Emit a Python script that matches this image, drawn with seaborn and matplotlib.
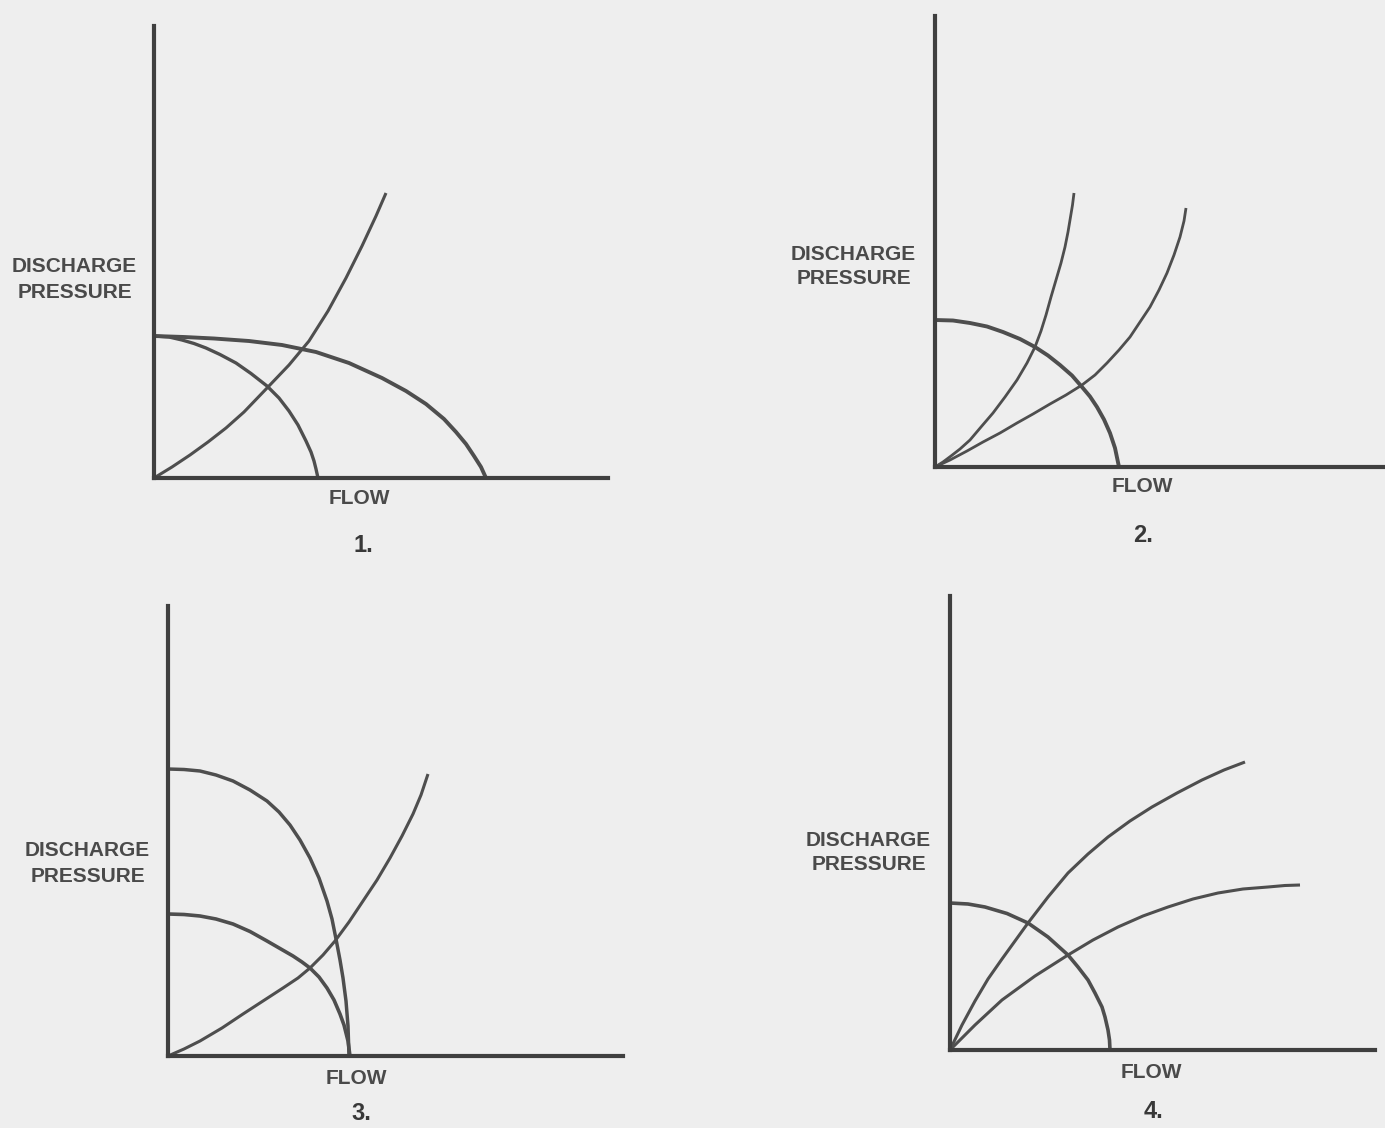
import matplotlib
matplotlib.use("Agg")
import matplotlib.pyplot as plt
import seaborn as sns

FIG_W, FIG_H = 1385, 1128

# values read off the scan, in drawing units measured from each panel origin
# panel 1: two pumps of different capacity, one system curve
p1_pump_small_flow = [0, 15, 28, 40, 52, 66, 82, 97, 113, 125, 135, 144, 152, 157, 160, 162, 164]
p1_pump_small_pres = [142, 141, 138, 134.5, 130, 123.5, 115, 104.5, 92, 80, 67, 53, 37, 26, 17, 9, 0]
p1_pump_large_flow = [0, 30, 60, 95, 128, 162, 195, 228, 252, 272, 290, 302, 312, 320, 327, 332]
p1_pump_large_pres = [142, 141, 139.5, 137, 133, 126, 115, 100, 87, 74, 59, 46, 34, 22, 11, 0]
p1_system_flow = [0, 18, 36, 54, 72, 90, 114, 135, 155, 174, 192, 208, 222, 232]
p1_system_pres = [0, 11, 23, 36, 50, 66, 91, 113, 137, 167, 200, 232, 262, 285]

# panel 2: one pump, two system curves
p2_pump_flow = [0, 18, 35, 52, 68, 85, 100, 113, 125, 137, 147, 155, 162, 169, 175, 180, 184]
p2_pump_pres = [147, 146.5, 144, 140.5, 135, 128, 120, 111.5, 102, 91.5, 80, 70.5, 60, 47.5, 34, 19, 0]
p2_system_steep_flow = [0, 8, 16, 25, 35, 46, 58, 70, 82, 92, 100, 106, 111, 116, 121, 126, 130, 133, 135.5, 137.5, 139]
p2_system_steep_pres = [0, 5, 11, 18, 27, 40, 54, 70, 87, 104, 120, 136, 152, 170, 187, 204, 220, 235, 250, 262, 274]
p2_system_flat_flow = [0, 15, 32, 48, 65, 82, 98, 115, 131, 147, 160, 172, 184, 195, 205, 215, 224, 232, 239, 245, 249, 251]
p2_system_flat_pres = [0, 7, 16, 25, 34, 44, 53, 63, 72, 82, 92, 104, 117, 130, 145, 160, 177, 194, 212, 230, 246, 259]

# panel 3: two pumps, same run-out flow, one system curve
p3_pump_high_flow = [0, 16, 32, 48, 65, 82, 99, 111, 122, 132, 142, 151, 159, 164, 168, 172, 175, 178, 180, 181]
p3_pump_high_pres = [287, 286.5, 285, 281, 275, 266, 255, 244, 231, 216, 198, 178, 155, 137, 117, 96, 78, 55, 30, 0]
p3_pump_low_flow = [0, 16, 32, 48, 65, 82, 99, 112, 125, 134, 142, 151, 159, 166, 172, 176, 180, 182]
p3_pump_low_pres = [142, 141.5, 140, 137, 132, 124.5, 115, 107.5, 100, 94, 88, 79, 68, 56, 42, 31, 15, 0]
p3_system_flow = [0, 16, 32, 54, 75, 95, 115, 130, 142, 155, 167, 181, 195, 209, 222, 234, 245, 253, 260]
p3_system_pres = [0, 7, 15, 28, 42, 55, 68, 78, 88, 101, 115, 134, 155, 176, 198, 220, 242, 261, 282]

# panel 4: one pump, two concave system curves
p4_pump_flow = [0, 18, 35, 57, 78, 98, 118, 128, 138, 145, 152, 155, 158, 159.5, 160]
p4_pump_pres = [147, 146, 143, 136.5, 127, 113, 95, 83, 70, 57, 43, 33, 20, 10, 0]
p4_system_high_flow = [0, 12, 25, 38, 52, 65, 78, 98, 118, 138, 158, 180, 202, 227, 252, 274, 295]
p4_system_high_pres = [0, 25, 49, 71, 91, 109, 127, 153, 177, 196, 213, 229, 243, 257, 270, 280, 288]
p4_system_low_flow = [0, 25, 52, 85, 118, 143, 168, 193, 218, 243, 268, 293, 318, 335, 350]
p4_system_low_pres = [0, 25, 50, 74, 95, 110, 123, 134, 143, 151, 157, 161, 163, 164.5, 165]

INK = "#3f3f3f"
CURVE = "#4e4e4e"
TEXT = "#4a4a4a"

sns.set_theme(style="white", rc={"figure.facecolor": "#eeeeee",
                                  "axes.facecolor": "none"})
plt.rcParams["font.family"] = ["Liberation Sans", "DejaVu Sans"]


def frac(x, y):
    return x / FIG_W, 1 - y / FIG_H


panels = [
    {
        "origin": (154, 478), "size": (454, 452),
        "curves": [(p1_pump_small_flow, p1_pump_small_pres, 2.4),
                   (p1_pump_large_flow, p1_pump_large_pres, 2.8),
                   (p1_system_flow, p1_system_pres, 2.2)],
        "ylabel": (74, 267), "flow": (359, 499), "num": ("1.", (363, 546)),
    },
    {
        "origin": (935, 467), "size": (450, 451),
        "curves": [(p2_pump_flow, p2_pump_pres, 2.8),
                   (p2_system_steep_flow, p2_system_steep_pres, 2.0),
                   (p2_system_flat_flow, p2_system_flat_pres, 2.0)],
        "ylabel": (853, 254), "flow": (1142, 486), "num": ("2.", (1143, 536)),
    },
    {
        "origin": (168, 1056), "size": (455, 450),
        "curves": [(p3_pump_high_flow, p3_pump_high_pres, 2.5),
                   (p3_pump_low_flow, p3_pump_low_pres, 2.6),
                   (p3_system_flow, p3_system_pres, 2.2)],
        "ylabel": (87, 851), "flow": (356, 1079), "num": ("3.", (361, 1113)),
    },
    {
        "origin": (950, 1050), "size": (425, 454),
        "curves": [(p4_pump_flow, p4_pump_pres, 2.6),
                   (p4_system_high_flow, p4_system_high_pres, 2.2),
                   (p4_system_low_flow, p4_system_low_pres, 2.2)],
        "ylabel": (868, 840), "flow": (1151, 1072), "num": ("4.", (1154, 1111)),
    },
]

fig = plt.figure(figsize=(FIG_W / 100, FIG_H / 100), dpi=100)

for p in panels:
    ox, oy = p["origin"]
    w, h = p["size"]
    ax = fig.add_axes([ox / FIG_W, (FIG_H - oy) / FIG_H, w / FIG_W, h / FIG_H])
    for flow, pres, lw in p["curves"]:
        sns.lineplot(x=flow, y=pres, sort=False, estimator=None,
                     color=CURVE, linewidth=lw, ax=ax)
    for line in ax.lines:
        line.set_clip_on(False)
        line.set_solid_capstyle("butt")
        line.set_solid_joinstyle("round")
    ax.set_xlim(0, w)
    ax.set_ylim(0, h)
    ax.set(xticks=[], yticks=[], xlabel="", ylabel="")
    sns.despine(ax=ax)
    for side in ["left", "bottom"]:
        ax.spines[side].set_linewidth(3.0)
        ax.spines[side].set_color(INK)

    lx, ly = p["ylabel"]
    fig.text(*frac(lx, ly), "DISCHARGE", ha="center", va="center",
             fontsize=15, fontweight="bold", color=TEXT)
    fig.text(*frac(lx + 1, ly + 25), "PRESSURE", ha="center", va="center",
             fontsize=15, fontweight="bold", color=TEXT)
    fig.text(*frac(*p["flow"]), "FLOW", ha="center", va="center",
             fontsize=15, fontweight="bold", color=TEXT)
    num, (nx, ny) = p["num"]
    fig.text(*frac(nx, ny), num, ha="center", va="center",
             fontsize=17, fontweight="bold", color="#383838")

fig.savefig("out.png", dpi=100, facecolor=fig.get_facecolor())
